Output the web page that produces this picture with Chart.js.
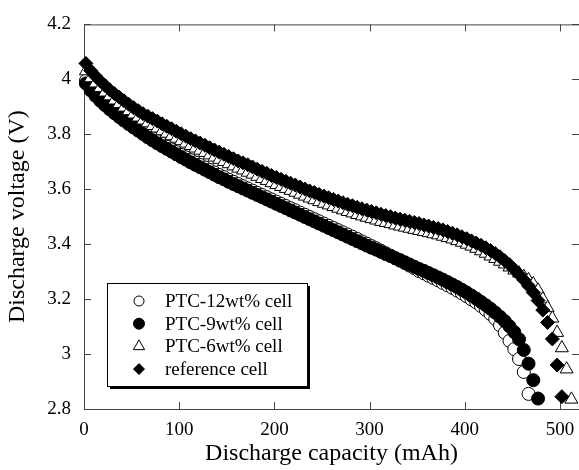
<!DOCTYPE html>
<html>
<head>
<meta charset="utf-8">
<script src="https://cdn.jsdelivr.net/npm/chart.js@4.4.1/dist/chart.umd.min.js"></script>
<style>
  html, body { margin: 0; padding: 0; background: #fff; overflow: hidden; }
  #wrap { width: 579px; height: 470px; }
  canvas { display: block; }
</style>
</head>
<body>
<div id="wrap"><canvas id="dischargeChart" width="579" height="470"></canvas></div>
<script>
/* 방전 곡선 (Discharge capacity vs voltage) */

// --- 데이터 ---
const capacity = [
  2, 7, 12, 17, 22, 27, 32, 37, 42, 47, 52, 57, 62, 67, 72, 77, 82, 87, 92, 97,
  102, 107, 112, 117, 122, 127, 132, 137, 142, 147, 152, 157, 162, 167, 172, 177, 182, 187, 192, 197,
  202, 207, 212, 217, 222, 227, 232, 237, 242, 247, 252, 257, 262, 267, 272, 277, 282, 287, 292, 297,
  302, 307, 312, 317, 322, 327, 332, 337, 342, 347, 352, 357, 362, 367, 372, 377, 382, 387, 392, 397,
  402, 407, 412, 417, 422, 427, 432, 437, 442, 447, 452, 457, 462, 467, 472, 477, 482, 487, 492, 497,
  502, 507, 512
];

const ptc12 = [
  3.995, 3.968, 3.948, 3.930, 3.914, 3.899, 3.885, 3.871, 3.858, 3.845,
  3.833, 3.821, 3.809, 3.797, 3.786, 3.775, 3.765, 3.755, 3.745, 3.735,
  3.725, 3.716, 3.706, 3.697, 3.688, 3.679, 3.670, 3.661, 3.652, 3.644,
  3.635, 3.627, 3.619, 3.611, 3.603, 3.595, 3.587, 3.579, 3.571, 3.563,
  3.555, 3.547, 3.539, 3.531, 3.523, 3.515, 3.507, 3.499, 3.491, 3.483,
  3.475, 3.467, 3.459, 3.451, 3.443, 3.435, 3.427, 3.419, 3.410, 3.402,
  3.393, 3.385, 3.376, 3.367, 3.358, 3.349, 3.340, 3.331, 3.322, 3.313,
  3.302, 3.294, 3.285, 3.277, 3.268, 3.259, 3.250, 3.241, 3.231, 3.221,
  3.210, 3.199, 3.188, 3.175, 3.161, 3.146, 3.128, 3.105, 3.078, 3.048,
  3.018, 2.982, 2.935, 2.855
];

const ptc9 = [
  3.985, 3.960, 3.940, 3.922, 3.906, 3.891, 3.877, 3.863, 3.850, 3.837,
  3.825, 3.813, 3.801, 3.789, 3.778, 3.767, 3.757, 3.747, 3.737, 3.727,
  3.717, 3.708, 3.698, 3.689, 3.680, 3.671, 3.662, 3.653, 3.644, 3.636,
  3.627, 3.619, 3.611, 3.603, 3.595, 3.587, 3.579, 3.571, 3.563, 3.555,
  3.547, 3.539, 3.531, 3.523, 3.515, 3.507, 3.499, 3.491, 3.483, 3.475,
  3.467, 3.459, 3.451, 3.443, 3.435, 3.427, 3.419, 3.411, 3.403, 3.395,
  3.387, 3.380, 3.372, 3.364, 3.357, 3.349, 3.342, 3.334, 3.326, 3.318,
  3.310, 3.303, 3.295, 3.287, 3.279, 3.271, 3.262, 3.253, 3.244, 3.234,
  3.224, 3.213, 3.202, 3.190, 3.178, 3.165, 3.151, 3.136, 3.120, 3.101,
  3.080, 3.054, 3.015, 2.965, 2.905, 2.838
];

const ptc6 = [
  4.030, 4.005, 3.986, 3.969, 3.953, 3.939, 3.924, 3.911, 3.898, 3.885,
  3.873, 3.862, 3.851, 3.841, 3.831, 3.822, 3.812, 3.803, 3.794, 3.785,
  3.776, 3.767, 3.758, 3.749, 3.741, 3.733, 3.724, 3.716, 3.708, 3.700,
  3.692, 3.684, 3.676, 3.669, 3.661, 3.654, 3.646, 3.638, 3.631, 3.623,
  3.616, 3.609, 3.602, 3.595, 3.588, 3.581, 3.574, 3.567, 3.561, 3.554,
  3.548, 3.542, 3.536, 3.530, 3.524, 3.518, 3.513, 3.507, 3.502, 3.497,
  3.492, 3.487, 3.482, 3.478, 3.474, 3.469, 3.465, 3.461, 3.457, 3.453,
  3.449, 3.445, 3.441, 3.437, 3.433, 3.428, 3.423, 3.418, 3.412, 3.406,
  3.399, 3.392, 3.384, 3.375, 3.366, 3.356, 3.347, 3.337, 3.327, 3.316,
  3.305, 3.294, 3.282, 3.270, 3.255, 3.232, 3.200, 3.168, 3.130, 3.078,
  3.022, 2.945, 2.835
];

const reference = [
  4.058, 4.032, 4.012, 3.994, 3.978, 3.962, 3.948, 3.935, 3.922, 3.909,
  3.897, 3.886, 3.875, 3.866, 3.857, 3.848, 3.838, 3.829, 3.820, 3.811,
  3.802, 3.793, 3.784, 3.776, 3.768, 3.760, 3.751, 3.743, 3.735, 3.727,
  3.719, 3.711, 3.703, 3.696, 3.689, 3.681, 3.673, 3.665, 3.658, 3.650,
  3.643, 3.636, 3.629, 3.622, 3.615, 3.608, 3.601, 3.594, 3.588, 3.581,
  3.575, 3.569, 3.563, 3.557, 3.551, 3.545, 3.540, 3.534, 3.529, 3.524,
  3.519, 3.514, 3.509, 3.504, 3.500, 3.495, 3.491, 3.487, 3.483, 3.479,
  3.475, 3.470, 3.466, 3.461, 3.457, 3.452, 3.446, 3.440, 3.434, 3.427,
  3.420, 3.412, 3.404, 3.396, 3.387, 3.377, 3.366, 3.354, 3.340, 3.325,
  3.308, 3.290, 3.270, 3.248, 3.224, 3.195, 3.160, 3.115, 3.055, 2.960,
  2.845
];

const seriesLabels = ['PTC-12wt% cell', 'PTC-9wt% cell', 'PTC-6wt% cell', 'reference cell'];
const xTicks = [0, 100, 200, 300, 400, 500];
const yTicks = [2.8, 3.0, 3.2, 3.4, 3.6, 3.8, 4.0, 4.2];

const FONT = "'Liberation Serif', 'Times New Roman', serif";

const toPoints = (volts) => volts.map((v, i) => ({ x: capacity[i], y: v }));

// 마커 스타일
const markers = [
  { pointStyle: 'circle',   radius: 6.5, backgroundColor: '#fff', borderColor: '#000', borderWidth: 1 },
  { pointStyle: 'circle',   radius: 6.5, backgroundColor: '#000', borderColor: '#000', borderWidth: 1 },
  { pointStyle: 'triangle', radius: 7.5, backgroundColor: '#fff', borderColor: '#000', borderWidth: 1 },
  { pointStyle: 'rectRot',  radius: 7,   backgroundColor: '#000', borderColor: '#000', borderWidth: 1 }
];
const legendMarkers = [
  { pointStyle: 'circle',   radius: 5,   backgroundColor: '#fff', borderColor: '#000', borderWidth: 1 },
  { pointStyle: 'circle',   radius: 5.5, backgroundColor: '#000', borderColor: '#000', borderWidth: 1 },
  { pointStyle: 'triangle', radius: 6.5, backgroundColor: '#fff', borderColor: '#000', borderWidth: 1 },
  { pointStyle: 'rectRot',  radius: 5.5, backgroundColor: '#000', borderColor: '#000', borderWidth: 1 }
];

const allSeries = [ptc12, ptc9, ptc6, reference];

const datasets = allSeries.map((s, i) => ({
  label: seriesLabels[i],
  data: toPoints(s),
  showLine: false,
  pointStyle: markers[i].pointStyle,
  pointRadius: markers[i].radius,
  pointBackgroundColor: markers[i].backgroundColor,
  pointBorderColor: markers[i].borderColor,
  pointBorderWidth: markers[i].borderWidth,
  clip: false,
  order: 3 - i   // 뒤 시리즈가 위에 그려지도록
}));

// --- 프레임 + 안쪽 눈금 ---
const framePlugin = {
  id: 'frameTicks',
  beforeDatasetsDraw: (chart) => {
    const { ctx, chartArea: a, scales } = chart;
    const len = 7;
    ctx.save();
    ctx.strokeStyle = '#444';
    ctx.lineWidth = 1;
    ctx.beginPath();
    ctx.rect(a.left + 0.5, a.top + 0.5, a.right - a.left, a.bottom - a.top);
    xTicks.forEach(v => {
      const px = Math.round(scales.x.getPixelForValue(v)) + 0.5;
      ctx.moveTo(px, a.bottom); ctx.lineTo(px, a.bottom - len);
      ctx.moveTo(px, a.top); ctx.lineTo(px, a.top + len);
    });
    yTicks.forEach(v => {
      const py = Math.round(scales.y.getPixelForValue(v)) + 0.5;
      ctx.moveTo(a.left, py); ctx.lineTo(a.left + len, py);
      ctx.moveTo(a.right, py); ctx.lineTo(a.right - len, py);
    });
    ctx.stroke();
    ctx.restore();
  }
};

// --- 범례 (그림자 박스) ---
const legendPlugin = {
  id: 'boxLegend',
  afterDraw: (chart) => {
    const { ctx } = chart;
    const box = { x: 107, y: 283, w: 200, h: 103 };
    ctx.save();
    ctx.fillStyle = '#000';
    ctx.fillRect(box.x + 3, box.y + 3, box.w, box.h);
    ctx.fillStyle = '#fff';
    ctx.fillRect(box.x, box.y, box.w, box.h);
    ctx.strokeStyle = '#000';
    ctx.lineWidth = 1;
    ctx.strokeRect(box.x + 0.5, box.y + 0.5, box.w, box.h);

    ctx.font = '19px ' + FONT;
    ctx.textBaseline = 'middle';
    ctx.textAlign = 'left';
    seriesLabels.forEach((label, i) => {
      const cy = box.y + 18 + i * 22.7;
      const m = legendMarkers[i];
      ctx.fillStyle = m.backgroundColor;
      ctx.strokeStyle = m.borderColor;
      ctx.lineWidth = m.borderWidth;
      Chart.helpers.drawPoint(ctx, { pointStyle: m.pointStyle, radius: m.radius, borderWidth: m.borderWidth, rotation: 0 }, 139, cy);
      ctx.fillStyle = '#000';
      ctx.fillText(label, 165, cy + 1);
    });
    ctx.restore();
  }
};

const config = {
  type: 'scatter',
  data: { datasets: datasets },
  options: {
    responsive: false,
    animation: false,
    devicePixelRatio: 1,
    layout: { autoPadding: false, padding: { top: 17, right: 0, left: 0, bottom: 0 } },
    scales: {
      x: {
        type: 'linear',
        min: 0,
        max: 520,
        afterBuildTicks: (axis) => { axis.ticks = xTicks.map(v => ({ value: v })); },
        afterFit: (axis) => { axis.height = 61; axis.paddingRight = 0; axis.paddingLeft = 0; },
        grid: { display: false, drawTicks: false },
        border: { display: false },
        ticks: { color: '#000', padding: 10, maxRotation: 0, font: { family: FONT, size: 19 } },
        title: {
          display: true,
          text: 'Discharge capacity (mAh)',
          color: '#000',
          font: { family: FONT, size: 24 },
          padding: { top: 0, bottom: 2 }
        }
      },
      y: {
        type: 'linear',
        min: 2.8,
        max: 4.2,
        afterBuildTicks: (axis) => { axis.ticks = yTicks.map(v => ({ value: v })); },
        afterFit: (axis) => { axis.width = 84; },
        grid: { display: false, drawTicks: false },
        border: { display: false },
        ticks: {
          color: '#000',
          padding: 13,
          font: { family: FONT, size: 19 },
          callback: (value) => String(+value.toFixed(1))
        },
        title: {
          display: true,
          text: 'Discharge voltage (V)',
          color: '#000',
          font: { family: FONT, size: 24 },
          padding: { top: 3, bottom: 0 }
        }
      }
    },
    plugins: {
      legend: { display: false },
      tooltip: { enabled: false }
    }
  },
  plugins: [framePlugin, legendPlugin]
};

new Chart(document.getElementById('dischargeChart').getContext('2d'), config);
</script>
</body>
</html>
